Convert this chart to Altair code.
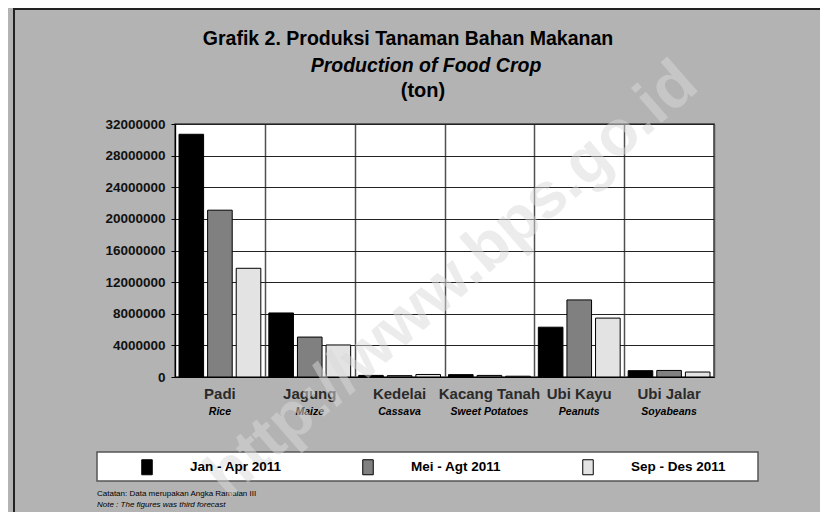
import altair as alt
import pandas as pd

# ---- data ----
categories = ["Padi", "Jagung", "Kedelai", "Kacang Tanah", "Ubi Kayu", "Ubi Jalar"]
english = ["Rice", "Maize", "Cassava", "Sweet Potatoes", "Peanuts", "Soyabeans"]
periods = ["Jan - Apr 2011", "Mei - Agt 2011", "Sep - Des 2011"]
jan_apr = [30700000, 8100000, 200000, 300000, 6300000, 800000]
mei_agt = [21100000, 5050000, 170000, 200000, 9750000, 830000]
sep_des = [13750000, 4050000, 320000, 100000, 7450000, 630000]
y_ticks = [0, 4000000, 8000000, 12000000, 16000000, 20000000, 24000000, 28000000, 32000000]

title_1 = "Grafik 2. Produksi Tanaman Bahan Makanan"
title_2 = "Production of Food Crop"
title_3 = "(ton)"
note_1 = "Catatan: Data merupakan Angka Ramalan III"
note_2 = "Note    : The figures was third forecast"
watermark = "http://www.bps.go.id"

bar_colors = ["#000000", "#808080", "#e3e3e3"]

FONT = "Liberation Sans, Arial, sans-serif"
W, H = 539, 253

rows = []
for vals, p in zip([jan_apr, mei_agt, sep_des], periods):
    for c, v in zip(categories, vals):
        rows.append({"crop": c, "period": p, "value": v})
df = pd.DataFrame(rows)
lab = pd.DataFrame({"crop": categories, "eng": english})

x_enc = alt.X("crop:N", sort=categories,
              scale=alt.Scale(paddingInner=0, paddingOuter=0),
              axis=alt.Axis(title=None, labels=False, ticks=False, domain=True,
                            domainColor="#000000", grid=True, tickBand="extent",
                            gridColor="#505050", gridWidth=1.5))

bars = alt.Chart(df).mark_bar(stroke="#000000", strokeWidth=1).encode(
    x=x_enc,
    xOffset=alt.XOffset("period:N", sort=periods,
                        scale=alt.Scale(paddingInner=0.14, paddingOuter=0.14)),
    y=alt.Y("value:Q", scale=alt.Scale(domain=[0, 32000000], nice=False),
            axis=alt.Axis(title=None, values=y_ticks, format="d", grid=True,
                          gridColor="#222222", gridWidth=1, domainColor="#000000",
                          tickColor="#000000", tickSize=4, labelPadding=6,
                          labelFont=FONT, labelFontWeight="bold", labelFontSize=13.5,
                          labelColor="#111111")),
    color=alt.Color("period:N", sort=periods,
                    scale=alt.Scale(domain=periods, range=bar_colors),
                    legend=alt.Legend(title=None, orient="none", legendX=-36, legendY=335,
                                      direction="horizontal", padding=0,
                                      symbolType="M-0.7,-1H0.7V1H-0.7Z", symbolSize=225,
                                      symbolStrokeColor="#000000", symbolStrokeWidth=1,
                                      labelFont=FONT, labelFontWeight="bold",
                                      labelFontSize=13.5, labelColor="#000000",
                                      labelOffset=35, columnPadding=78, labelLimit=0)),
)

cat_labels = alt.Chart(lab).mark_text(font=FONT, fontWeight="bold", fontSize=15,
                                      color="#2b2b2b", baseline="alphabetic").encode(
    x=alt.X("crop:N", sort=categories), y=alt.value(H + 22), text="crop:N")
eng_labels = alt.Chart(lab).mark_text(font=FONT, fontWeight="bold", fontStyle="italic",
                                      fontSize=10.5, color="#000000",
                                      baseline="alphabetic").encode(
    x=alt.X("crop:N", sort=categories), y=alt.value(H + 38), text="eng:N")


def txt(s, x, y, **kw):
    return alt.Chart(pd.DataFrame({"t": [s]})).mark_text(font=FONT, **kw).encode(
        text="t:N", x=alt.value(x), y=alt.value(y))


t1 = txt(title_1, 233, -79, fontSize=19.5, fontWeight="bold", color="#000000", baseline="alphabetic")
t2 = txt(title_2, 251, -52, fontSize=19.5, fontWeight="bold", fontStyle="italic",
         color="#000000", baseline="alphabetic")
t3 = txt(title_3, 248, -27, fontSize=20, fontWeight="bold", color="#000000", baseline="alphabetic")
n1 = txt(note_1, -78, 372, fontSize=8, align="left", color="#000000", baseline="alphabetic")
n2 = txt(note_2, -78, 383, fontSize=8, fontStyle="italic", align="left", color="#000000",
         baseline="alphabetic")

one = pd.DataFrame({"k": [0]})
legend_box = alt.Chart(one).mark_rect(fill="#ffffff", stroke="#555555", strokeWidth=1.5).encode(
    x=alt.value(-78), x2=alt.value(583), y=alt.value(328), y2=alt.value(357))
border_left = alt.Chart(one).mark_rule(color="#222222", strokeWidth=2).encode(
    x=alt.value(-161), y=alt.value(-116), y2=alt.value(H + 135))
border_top = alt.Chart(one).mark_rule(color="#222222", strokeWidth=2).encode(
    y=alt.value(-115), x=alt.value(-161), x2=alt.value(W + 106))

wm = txt(watermark, 277, 156, fontSize=64, fontWeight="bold", angle=319,
         align="center", baseline="middle", color="#dadada", opacity=0.5)

chart = alt.layer(
    legend_box, border_left, border_top, bars, cat_labels, eng_labels,
    t1, t2, t3, n1, n2, wm
).properties(
    width=W, height=H,
    autosize=alt.AutoSizeParams(type="none"),
    padding={"left": 167, "top": 116, "right": 106, "bottom": 135},
    background="#b3b3b3",
).configure_view(
    fill="#ffffff", stroke="#404040", strokeWidth=1.5
)

chart.save("out.html", embed_options={"renderer": "svg", "actions": False})
